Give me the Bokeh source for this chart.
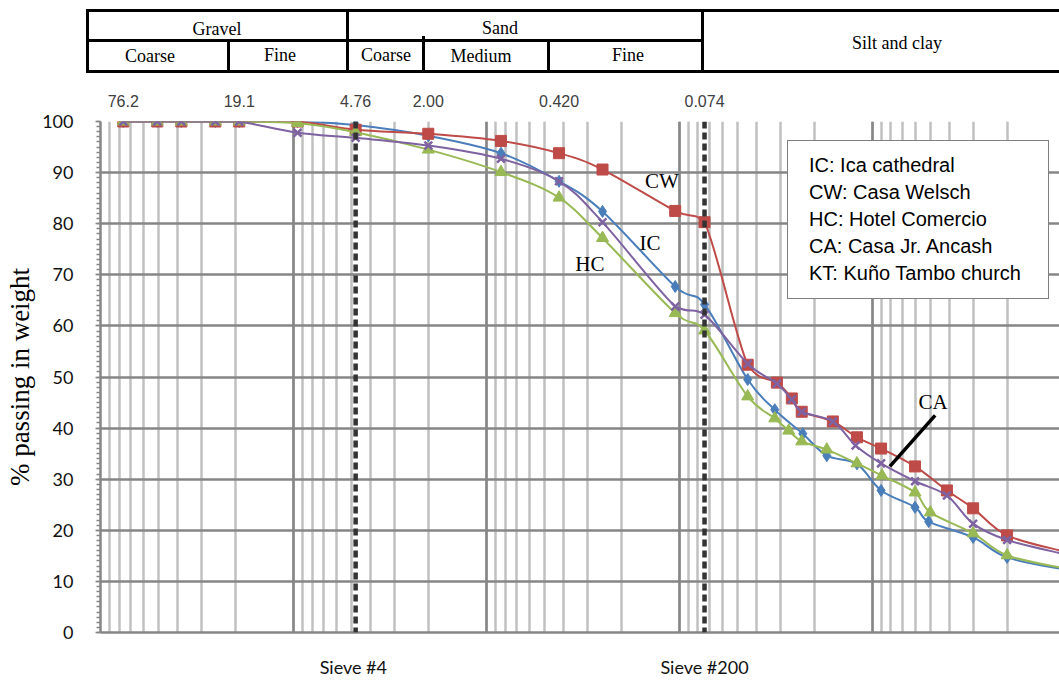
import math
from bokeh.plotting import figure
from bokeh.models import (Range1d, LogTicker, FixedTicker, SingleIntervalTicker, LogAxis,
                          Span, Legend, LegendItem, CustomJSTickFormatter, Div)
from bokeh.layouts import column
from bokeh.core.properties import value
from bokeh.embed import file_html
from bokeh.resources import INLINE

# ---------------- data ----------------
# sieve openings (mm), common to all samples
sieve_mm = [76.2, 50.8, 38.1, 25.4, 19.1, 9.52, 4.76, 2.00, 0.84, 0.42, 0.25, 0.105, 0.074]

ic_sieve = [100, 100, 100, 100, 100, 100, 99.3, 97.2, 93.8, 88.3, 82.4, 67.7, 64.2]
cw_sieve = [100, 100, 100, 100, 100, 100, 98.4, 97.6, 96.2, 93.8, 90.6, 82.5, 80.3]
hc_sieve = [100, 100, 100, 100, 100, 99.7, 97.9, 94.5, 90.1, 85.1, 77.2, 62.5, 59.1]
ca_sieve = [100, 100, 100, 100, 100, 97.8, 96.8, 95.3, 92.7, 88.3, 80.3, 63.8, 62.2]

# hydrometer part (diameter mm / % passing)
ic_hyd_mm = [0.0442, 0.0320, 0.0229, 0.0172, 0.0120, 0.0090, 0.0060, 0.0051, 0.0030, 0.0020, 0.0010]
ic_hyd = [49.5, 43.6, 38.9, 34.6, 33.0, 27.8, 24.5, 21.7, 18.6, 14.7, 12.3]

cw_hyd_mm = [0.0442, 0.0312, 0.0261, 0.0232, 0.0160, 0.0120, 0.0090, 0.0060, 0.0041, 0.0030, 0.0020, 0.0010]
cw_hyd = [52.4, 48.9, 45.8, 43.2, 41.3, 38.2, 36.0, 32.5, 27.8, 24.3, 19.0, 15.8]

hc_hyd_mm = [0.0442, 0.0320, 0.0271, 0.0232, 0.0172, 0.0120, 0.0089, 0.0060, 0.0050, 0.0030, 0.0020, 0.0010]
hc_hyd = [46.2, 41.9, 39.5, 37.4, 35.8, 33.1, 30.7, 27.4, 23.5, 19.4, 15.1, 12.5]

ca_hyd_mm = [0.0442, 0.0312, 0.0261, 0.0232, 0.0160, 0.0122, 0.0090, 0.0060, 0.0041, 0.0030, 0.0020, 0.0010]
ca_hyd = [52.6, 48.7, 45.6, 43.2, 41.3, 36.6, 33.1, 29.6, 26.8, 21.3, 18.1, 15.3]

series_names = ["IC", "CW", "HC", "CA"]
legend_texts = ["IC: Ica cathedral", "CW: Casa Welsch", "HC: Hotel Comercio",
                "CA: Casa Jr. Ancash", "KT: Kuño Tambo church"]

top_tick_mm = [76.2, 19.1, 4.76, 2.00, 0.42, 0.074]
top_tick_labels = ["76.2", "19.1", "4.76", "2.00", "0.420", "0.074"]

sieve_line_mm = [4.76, 0.074]
sieve_line_labels = ["Sieve  #4", "Sieve #200"]

header_top = ["Gravel", "Sand"]
header_bottom = ["Coarse", "Fine", "Coarse", "Medium", "Fine"]
header_right = "Silt and clay"

# series annotations: (label, size mm, % passing)
ann_labels = ["CW", "IC", "HC", "CA"]
ann_mm = [0.123, 0.142, 0.291, 0.00484]
ann_pct = [88.3, 76.3, 72.2, 45.2]
ca_pointer_mm = [0.00472, 0.0081]
ca_pointer_pct = [42.5, 32.5]

# ---------------- styling ----------------
colors = {"IC": "#4a7ebb", "CW": "#be4b48", "HC": "#98b954", "CA": "#7e62a1"}
markers = {"IC": "diamond", "CW": "square", "HC": "triangle", "CA": "x"}
msize = {"IC": 12, "CW": 11, "HC": 12, "CA": 11}
GRID_DARK = "#868686"
GRID_LIGHT = "#c0c0c0"
W = 1059
HDR_H = 76
MAIN_H = 680 - HDR_H

# ---------------- header table (HTML, layout positions in px) ----------------
def hline(left, top, width):
    return (f'<div style="position:absolute;left:{left}px;top:{top}px;width:{width}px;'
            f'height:3px;background:#000;"></div>')

def vline(left, top, height):
    return (f'<div style="position:absolute;left:{left}px;top:{top}px;width:3px;'
            f'height:{height}px;background:#000;"></div>')

def cell_text(cx, cy, txt):
    return (f'<div style="position:absolute;left:{cx}px;top:{cy}px;transform:translate(-50%,-50%);'
            f'white-space:nowrap;">{txt}</div>')

xl, xgs, xss = 86, 346, 701
yt, ym, yb = 9, 39, 70
parts = [hline(xl, yt, W - xl), hline(xl, ym, xss - xl), hline(xl, yb, W - xl),
         vline(xl, yt, yb - yt + 3), vline(xgs, yt, yb - yt + 3), vline(xss, yt, yb - yt + 3),
         vline(227, ym, yb - ym + 3), vline(422, ym - 3, yb - ym + 6), vline(547, ym, yb - ym + 3)]
txt_pos = [(217, 30), (500, 29), (150, 57), (280, 56), (386, 56), (481, 57), (628, 56), (897, 44)]
for (cx, cy), t in zip(txt_pos, header_top + header_bottom + [header_right]):
    parts.append(cell_text(cx, cy, t))
html = (f'<div style="position:relative;width:{W}px;height:{HDR_H}px;'
        f'font-family:\'Liberation Serif\',serif;font-size:18px;color:#000;">' + "".join(parts) + '</div>')
hdr = Div(text=html, width=W, height=HDR_H, margin=0)

# ---------------- main chart ----------------
p = figure(width=W, height=MAIN_H, x_axis_type="log",
           x_range=Range1d(100, 0.00107), y_range=Range1d(0, 100),
           output_backend="svg", toolbar_location=None,
           min_border_left=100, min_border_right=0, min_border_top=45, min_border_bottom=48,
           outline_line_color=None, background_fill_color="white", margin=0)

# grid
p.xgrid.ticker = LogTicker(num_minor_ticks=10)
p.xgrid.grid_line_color = GRID_DARK
p.xgrid.grid_line_width = 2.5
p.xgrid.minor_grid_line_color = GRID_LIGHT
p.xgrid.minor_grid_line_width = 2.5
p.ygrid.grid_line_color = GRID_DARK
p.ygrid.grid_line_width = 2.5

# y axis
p.yaxis.ticker = SingleIntervalTicker(interval=10, num_minor_ticks=10)
p.yaxis.axis_line_color = GRID_DARK
p.yaxis.axis_line_width = 2.5
p.yaxis.major_tick_line_color = GRID_DARK
p.yaxis.major_tick_line_width = 1.5
p.yaxis.major_tick_out = 5
p.yaxis.major_tick_in = 0
p.yaxis.minor_tick_line_color = GRID_DARK
p.yaxis.minor_tick_line_width = 1.5
p.yaxis.minor_tick_out = 4
p.yaxis.minor_tick_in = 0
p.yaxis.major_label_text_font = "Lato"
p.yaxis.major_label_text_font_size = "18px"
p.yaxis.major_label_text_color = "#111111"
p.yaxis.major_label_standoff = 22
p.yaxis.axis_label = "% passing in weight"
p.yaxis.axis_label_text_font = "Liberation Serif"
p.yaxis.axis_label_text_font_size = "27px"
p.yaxis.axis_label_text_font_style = "normal"
p.yaxis.axis_label_text_color = "black"
p.yaxis.axis_label_standoff = 4

# bottom axis: sieve labels
fmt_code = ("const i = vals.findIndex(v => Math.abs(v - tick) <= 1e-9 * Math.abs(v));"
            " return i >= 0 ? labs[i] : '';")
p.xaxis.ticker = FixedTicker(ticks=sieve_line_mm)
p.xaxis.formatter = CustomJSTickFormatter(args=dict(vals=sieve_line_mm, labs=sieve_line_labels),
                                          code=fmt_code)
p.xaxis.axis_line_color = GRID_DARK
p.xaxis.axis_line_width = 2.5
p.xaxis.major_tick_line_color = None
p.xaxis.minor_tick_line_color = None
p.xaxis.major_tick_out = 0
p.xaxis.major_tick_in = 0
p.xaxis.major_label_text_font = "Lato"
p.xaxis.major_label_text_font_size = "18px"
p.xaxis.major_label_text_color = "#111111"
p.xaxis.major_label_standoff = 23

# top axis: key sizes
top = LogAxis(ticker=FixedTicker(ticks=top_tick_mm),
              formatter=CustomJSTickFormatter(args=dict(vals=top_tick_mm, labs=top_tick_labels),
                                              code=fmt_code),
              axis_line_color=None, major_tick_line_color=None, minor_tick_line_color=None,
              major_tick_out=0, major_tick_in=0,
              major_label_text_font="Liberation Sans", major_label_text_font_size="16px",
              major_label_text_color="#404040", major_label_standoff=15)
p.add_layout(top, "above")

# sieve #4 and #200 dashed lines
for mm in sieve_line_mm:
    p.add_layout(Span(location=mm, dimension="height", line_color="#333333",
                      line_width=4.5, line_dash="7 4"))


# smoothed connecting curves (Catmull-Rom in log-x / linear-y space, with control
# points clamped to each segment's value range so the curve never overshoots)
def smooth_segments(xs, ys):
    lx = [math.log10(v) for v in xs]
    n = len(xs)
    out = {k: [] for k in ("x0", "y0", "x1", "y1", "cx0", "cy0", "cx1", "cy1")}
    for i in range(n - 1):
        a, b = max(i - 1, 0), min(i + 2, n - 1)
        lo, hi = min(ys[i], ys[i + 1]), max(ys[i], ys[i + 1])
        c0x = lx[i] + (lx[i + 1] - lx[a]) / 6.0
        c0y = min(max(ys[i] + (ys[i + 1] - ys[a]) / 6.0, lo), hi)
        c1x = lx[i + 1] - (lx[b] - lx[i]) / 6.0
        c1y = min(max(ys[i + 1] - (ys[b] - ys[i]) / 6.0, lo), hi)
        out["x0"].append(xs[i]); out["y0"].append(ys[i])
        out["x1"].append(xs[i + 1]); out["y1"].append(ys[i + 1])
        out["cx0"].append(10 ** c0x); out["cy0"].append(c0y)
        out["cx1"].append(10 ** c1x); out["cy1"].append(c1y)
    return out


# series
data = {
    "IC": (sieve_mm + ic_hyd_mm, ic_sieve + ic_hyd),
    "CW": (sieve_mm + cw_hyd_mm, cw_sieve + cw_hyd),
    "HC": (sieve_mm + hc_hyd_mm, hc_sieve + hc_hyd),
    "CA": (sieve_mm + ca_hyd_mm, ca_sieve + ca_hyd),
}
for name in series_names:
    xs, ys = data[name]
    c = colors[name]
    p.bezier(line_color=c, line_width=2, **smooth_segments(xs, ys))
    if markers[name] == "x":
        p.scatter(xs, ys, marker="x", size=msize[name], line_color=c, line_width=2.5)
    else:
        p.scatter(xs, ys, marker=markers[name], size=msize[name], fill_color=c, line_color=c)

# annotations
p.text(x=ann_mm, y=ann_pct, text=ann_labels, text_align="center", text_baseline="middle",
       text_font=value("Liberation Serif"), text_font_size="21px", text_color="black")
p.line(ca_pointer_mm, ca_pointer_pct, line_color="black", line_width=3.5)

# legend box (text only)
dummy = p.line(x=[], y=[], line_alpha=0)
legend = Legend(items=[LegendItem(label=t, renderers=[dummy]) for t in legend_texts],
                location=(687, 333), orientation="vertical",
                glyph_width=10, glyph_height=27, label_height=27, label_width=228,
                label_standoff=0, spacing=0, padding=11, margin=0,
                border_line_color="black", border_line_width=1.5,
                background_fill_color="white", background_fill_alpha=1.0,
                label_text_font="Liberation Sans", label_text_font_size="20px",
                label_text_color="black")
p.add_layout(legend)

layout = column(hdr, p, spacing=0)
open("out.html", "w").write(file_html(layout, INLINE))
